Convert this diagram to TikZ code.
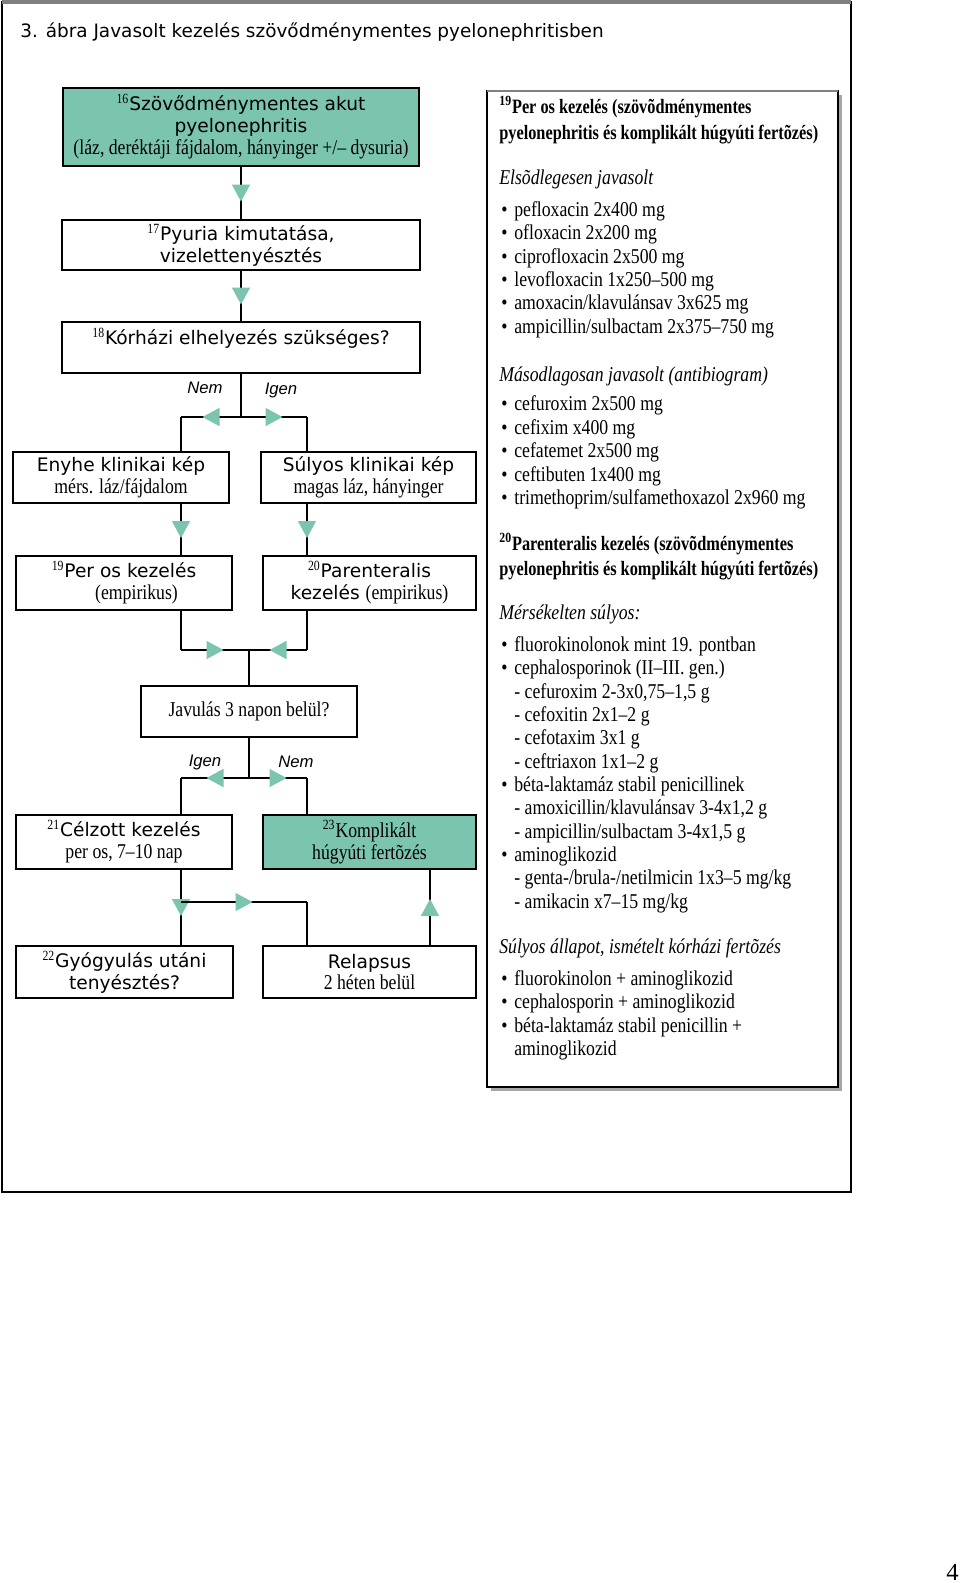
\documentclass[tikz,border=0pt]{standalone}
\usepackage{fontspec}
\usetikzlibrary{arrows.meta,decorations.markings,calc}
\setmainfont{Liberation Serif}
\newfontfamily\boxsans{DejaVu Sans}
\newfontfamily\boxserif{Liberation Serif}[FakeStretch=0.84]
\newfontfamily\fejserif{Liberation Serif}[FakeStretch=0.80]
\newfontfamily\labelsans{Liberation Sans}
\definecolor{zold}{RGB}{122,196,176}
\newcommand{\nr}[1]{\textsuperscript{\boxserif\fontsize{8}{8}\selectfont #1}}
\newcommand{\ser}[1]{{\boxserif\fontsize{12}{12.5}\selectfont #1}}
\newcommand{\fej}[1]{{\fejserif\bfseries\fontsize{11.6}{13.3}\selectfont #1}}
\newcommand{\pont}{\hspace*{0.04cm}\makebox[0.26cm][l]{\textbullet}}
\newcommand{\alp}{\hspace*{0.3cm}}
\tikzstyle{boxStyle}=[draw, line width=0.9pt, align=center, inner sep=1pt, font=\boxsans\fontsize{10.6}{12.5}\selectfont]
\tikzstyle{lineStyle}=[line width=0.8pt]
\tikzstyle{midTri}=[lineStyle, postaction={decorate}, decoration={markings, mark=at position 0.5 with {\arrow[xshift=0.17cm]{Triangle[length=0.34cm, width=0.36cm, color=zold]}}}]
\tikzstyle{labelStyle}=[font=\labelsans\itshape\fontsize{9.5}{10}\selectfont, inner sep=0pt]

\begin{document}
\begin{tikzpicture}[x=0.02cm, y=-0.02cm]
\useasboundingbox (0,0) rectangle (960,1583);
\draw[line width=1pt] (2,2) rectangle (851,1192);
\draw[gray, line width=2.5pt] (2,2) -- (851,2);
\node[anchor=west, inner sep=0pt, font=\boxsans\fontsize{10.5}{12}\selectfont] (cim) at (20,32) {3. ábra Javasolt kezelés szövődménymentes pyelonephritisben};
\coordinate (cL) at (181,0);
\coordinate (cR) at (307,0);
\coordinate (cR2) at (430,0);
\node[boxStyle, fill=zold, minimum width=7.12cm, minimum height=1.56cm] (b16) at (241,127) {\nr{16}Szövődménymentes akut\\ pyelonephritis\\ \ser{(láz, deréktáji fájdalom, hányinger +/– dysuria)}};
\node[boxStyle, minimum width=7.16cm, minimum height=1.0cm] (b17) at (241,245) {\nr{17}Pyuria kimutatása,\\ vizelettenyésztés};
\node[boxStyle, minimum width=7.16cm, minimum height=1.02cm] (b18) at (241,347.5) {\nr{18}Kórházi elhelyezés szükséges?\\ \mbox{}};
\node[boxStyle, minimum width=4.32cm, minimum height=1.02cm] (enyhe) at (121,477.5) {Enyhe klinikai kép\\ \ser{mérs. láz/fájdalom}};
\node[boxStyle, minimum width=4.30cm, minimum height=1.02cm] (sulyos) at (368.5,477.5) {Súlyos klinikai kép\\ \ser{magas láz, hányinger}};
\node[boxStyle, minimum width=4.32cm, minimum height=1.08cm] (b19) at (124,583) {\nr{19}Per os kezelés\\ \ser{\hspace*{0.5cm}(empirikus)}};
\node[boxStyle, minimum width=4.26cm, minimum height=1.08cm] (b20) at (369.5,583) {\nr{20}Parenteralis\\ kezelés \ser{(empirikus)}};
\node[boxStyle, minimum width=4.32cm, minimum height=1.02cm] (javulas) at (249,711.5) {\ser{Javulás 3 napon belül?}};
\node[boxStyle, minimum width=4.32cm, minimum height=1.08cm] (b21) at (124,842) {\nr{21}Célzott kezelés\\ \ser{per os, 7–10 nap}};
\node[boxStyle, fill=zold, minimum width=4.26cm, minimum height=1.08cm] (b23) at (369.5,842) {\ser{\nr{23}Komplikált}\\ \ser{húgyúti fertõzés}};
\node[boxStyle, minimum width=4.34cm, minimum height=1.04cm] (b22) at (124.5,972) {\nr{22}Gyógyulás utáni\\ tenyésztés?};
\node[boxStyle, minimum width=4.26cm, minimum height=1.04cm] (relapsus) at (369.5,972) {Relapsus\\ \ser{2 héten belül}};
\coordinate (s18) at (241,417);
\coordinate (m19) at (249,650);
\coordinate (s2) at (249,778);
\coordinate (s3) at (181,902);
\draw[midTri] (b16) -- (b17);
\draw[midTri] (b17) -- (b18);
\draw[lineStyle] (b18) -- (s18);
\draw[midTri] (s18) -- (s18 -| cL);
\draw[midTri] (s18) -- (s18 -| cR);
\draw[lineStyle] (s18 -| cL) -- (enyhe.north -| cL);
\draw[lineStyle] (s18 -| cR) -- (sulyos.north -| cR);
\draw[midTri] (enyhe.south -| cL) -- (b19.north -| cL);
\draw[midTri] (sulyos.south -| cR) -- (b20.north -| cR);
\draw[lineStyle] (b19.south -| cL) -- (m19 -| cL);
\draw[lineStyle] (b20.south -| cR) -- (m19 -| cR);
\draw[midTri] (m19 -| cL) -- (m19);
\draw[midTri] (m19 -| cR) -- (m19);
\draw[lineStyle] (m19) -- (javulas);
\draw[lineStyle] (javulas) -- (s2);
\draw[midTri] (s2) -- (s2 -| cL);
\draw[midTri] (s2) -- (s2 -| cR);
\draw[lineStyle] (s2 -| cL) -- (b21.north -| cL);
\draw[lineStyle] (s2 -| cR) -- (b23.north -| cR);
\draw[midTri] (b21.south -| cL) -- (b22.north -| cL);
\draw[midTri] (s3) -- (s3 -| cR);
\draw[lineStyle] (s3 -| cR) -- (relapsus.north -| cR);
\draw[midTri] (relapsus.north -| cR2) -- (b23.south -| cR2);
\node[labelStyle] (nem1) at (205,388) {Nem};
\node[labelStyle] (igen1) at (281,390) {Igen};
\node[labelStyle] (igen2) at (205,762) {Igen};
\node[labelStyle] (nem2) at (296,762) {Nem};
\fill[gray!70] (491,95) rectangle (842,1091);
\draw[fill=white, line width=0.9pt] (487,91) rectangle (838,1087);
\draw[gray, line width=1.5pt] (487,91) -- (838,91);
\node[anchor=north west, align=left, inner sep=0pt, font=\boxserif\fontsize{12}{13.3}\selectfont] (lista) at (499,96) {\fej{\nr{19}Per os kezelés (szövõdménymentes}\\[1.5pt]
\fej{pyelonephritis és komplikált húgyúti fertõzés)}\\[12.3pt]
\textit{Elsõdlegesen javasolt}\\[4.9pt]
\pont pefloxacin 2x400 mg\\
\pont ofloxacin 2x200 mg\\
\pont ciprofloxacin 2x500 mg\\
\pont levofloxacin 1x250–500 mg\\
\pont amoxacin/klavulánsav 3x625 mg\\
\pont ampicillin/sulbactam 2x375–750 mg\\[14pt]
\textit{Másodlagosan javasolt (antibiogram)}\\[3.7pt]
\pont cefuroxim 2x500 mg\\
\pont cefixim x400 mg\\
\pont cefatemet 2x500 mg\\
\pont ceftibuten 1x400 mg\\
\pont trimethoprim/sulfamethoxazol 2x960 mg\\[12.9pt]
\fej{\nr{20}Parenteralis kezelés (szövõdménymentes}\\[0.9pt]
\fej{pyelonephritis és komplikált húgyúti fertõzés)}\\[11.7pt]
\textit{Mérsékelten súlyos:}\\[4.9pt]
\pont fluorokinolonok mint 19. pontban\\
\pont cephalosporinok (II–III. gen.)\\
\alp - cefuroxim 2-3x0,75–1,5 g\\
\alp - cefoxitin 2x1–2 g\\
\alp - cefotaxim 3x1 g\\
\alp - ceftriaxon 1x1–2 g\\
\pont béta-laktamáz stabil  penicillinek\\
\alp - amoxicillin/klavulánsav 3-4x1,2 g\\
\alp - ampicillin/sulbactam 3-4x1,5 g\\
\pont aminoglikozid\\
\alp - genta-/brula-/netilmicin 1x3–5 mg/kg\\
\alp - amikacin x7–15 mg/kg\\[12.3pt]
\textit{Súlyos állapot, ismételt kórházi fertõzés}\\[4.9pt]
\pont fluorokinolon + aminoglikozid\\
\pont cephalosporin  + aminoglikozid\\
\pont béta-laktamáz stabil penicillin +\\
\alp aminoglikozid};
\node[anchor=base west, inner sep=0pt, font=\fontsize{14}{16}\selectfont] (oldal) at (946,1580) {4};
\end{tikzpicture}
\end{document}
